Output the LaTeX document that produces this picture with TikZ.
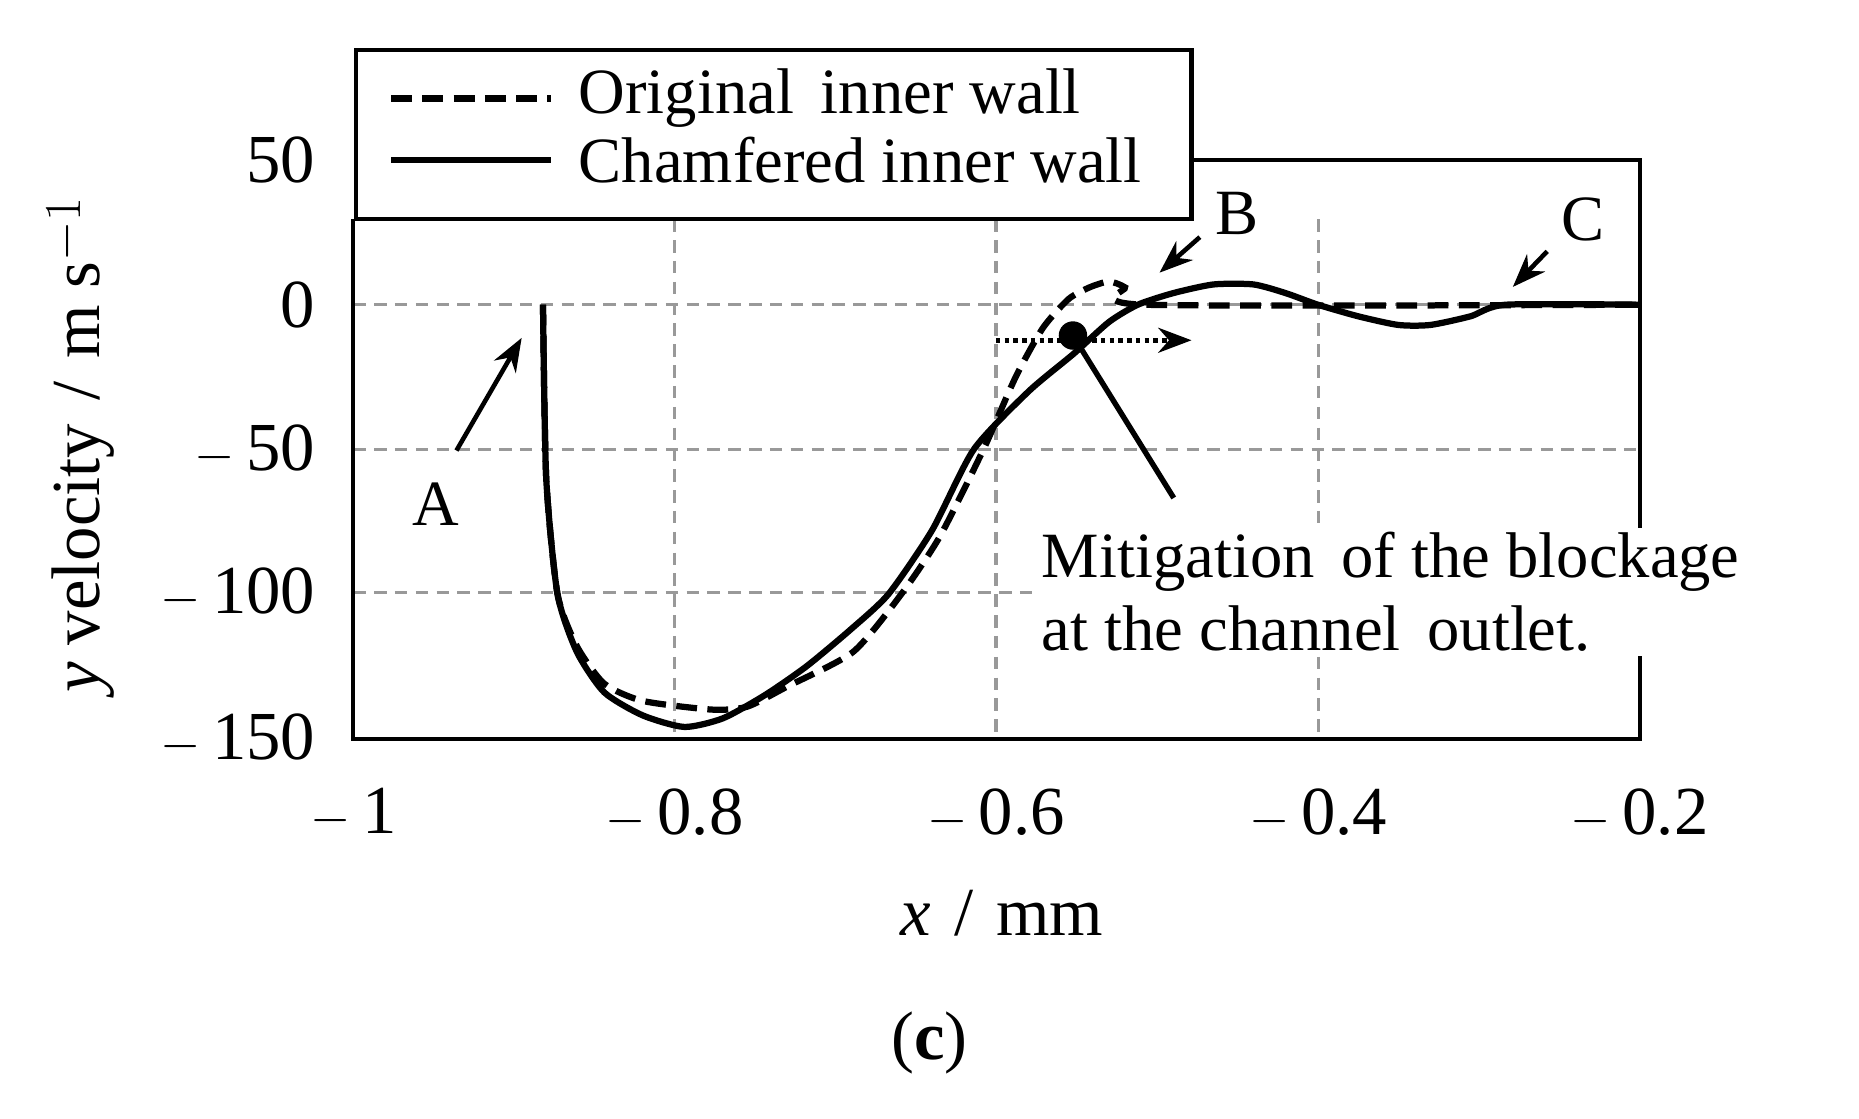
\documentclass[tikz,border=0pt]{standalone}
\usepackage{fontspec}
\setmainfont{Liberation Serif}
\usetikzlibrary{arrows.meta}
\tikzset{
 grid/.style={gray!80,dashed,line width=1.6pt,dash pattern=on 6pt off 4pt},
 frame/.style={line width=2pt},
 curve/.style={line width=3pt},
 lbl/.style={font=\fontsize{31}{35}\selectfont},
 tick/.style={font=\fontsize{33}{36}\selectfont},
 ann/.style={line width=2.2pt,-{Stealth[length=16pt,width=12pt]}}
}
\begin{document}
\begin{tikzpicture}[x=0.02cm,y=-0.02cm]
\useasboundingbox (0,0) rectangle (1568,943);
% grid
\foreach \gx in {569,840,1112} \draw[grid] (\gx,185) -- (\gx,623);
\foreach \gy in {257,379,500} \draw[grid] (298,\gy) -- (1383,\gy);
% frame
\draw[frame] (1005,135) -- (1383,135) -- (1383,623) -- (298,623) -- (298,185);
% curves
\begin{scope}[shift={(298,257)},x=27.125cm,y=0.0488cm]
\draw[curve] plot[smooth,tension=0.4] coordinates {(0.118,0) (0.12,-60) (0.127,-100) (0.139,-120) (0.156,-134) (0.18,-142) (0.206,-146) (0.23,-143) (0.256,-135) (0.282,-125) (0.31,-112) (0.333,-100) (0.36,-78) (0.386,-50) (0.42,-30) (0.448,-17) (0.47,-6) (0.488,0) (0.51,4) (0.535,7) (0.56,7) (0.58,4) (0.6,0) (0.625,-4) (0.65,-7) (0.67,-7) (0.695,-4) (0.717,0) (0.8,0)};
\draw[curve,dash pattern=on 10pt off 5pt] plot[smooth,tension=0.4] coordinates {(0.118,0) (0.12,-60) (0.127,-100) (0.139,-118) (0.156,-131) (0.18,-137) (0.223,-140) (0.245,-139) (0.27,-132) (0.311,-120) (0.341,-100) (0.365,-80) (0.392,-50) (0.412,-25) (0.429,-8) (0.445,2) (0.458,6) (0.47,8) (0.48,6) (0.492,0) (0.8,0)};
\end{scope}
% legend
\draw[frame,fill=white] (300,42) rectangle (1005,185);
\draw[curve,dash pattern=on 10pt off 5pt] (330,83) -- (465,83);
\draw[curve] (330,135) -- (465,135);
\node[lbl,anchor=west] (l1) at (482,83) {Original\, inner wall};
\node[lbl,anchor=west] (l2) at (482,135) {Chamfered inner wall};
% ticks
\foreach \v/\t in {135/50,257/0,379/$-$\,50,500/$-$\,100,623/$-$\,150}
 \node[tick,anchor=east] at (272,\v) {\t};
\foreach \u/\t in {298/$-$\,1,569/$-$\,0.8,840/$-$\,0.6,1112/$-$\,0.4,1383/$-$\,0.2}
 \node[tick] at (\u,686) {\t};
\node[tick] (xl) at (845,770) {\textit{x}\,\,/\,\,mm};
\node[tick,rotate=90] (yl) at (68,375) {\textit{y} velocity\,\,/\,\,m s$^{-1}$};
\node[tick] (cap) at (784,880) {(\textbf{c})};
% annotations
\node[lbl] (A) at (368,425) {A};
\node[lbl] (B) at (1043,180) {B};
\node[lbl] (C) at (1335,185) {C};
\coordinate (Ae) at (440,285); \coordinate (As) at (385,380);
\draw[ann] (As) -- (Ae);
\coordinate (Bs) at (1012,200); \coordinate (Be) at (978,230);
\draw[ann] (Bs) -- (Be);
\coordinate (Cs) at (1305,212); \coordinate (Ce) at (1276,242);
\draw[ann] (Cs) -- (Ce);
\coordinate (dot) at (905,283);
\coordinate (ds) at (840,287); \coordinate (de) at (1005,287);
\draw[line width=2.2pt,dotted,-{Stealth[length=16pt,width=12pt]}] (ds) -- (de);
\fill (dot) circle (12);
\coordinate (me) at (990,420);
\draw[line width=2.6pt] (dot) -- (me);
\node[lbl,align=left,anchor=north west,fill=white,inner sep=2pt] (mit) at (875,445) {Mitigation\, of the blockage\\at the channel\, outlet.};
\end{tikzpicture}
\end{document}
